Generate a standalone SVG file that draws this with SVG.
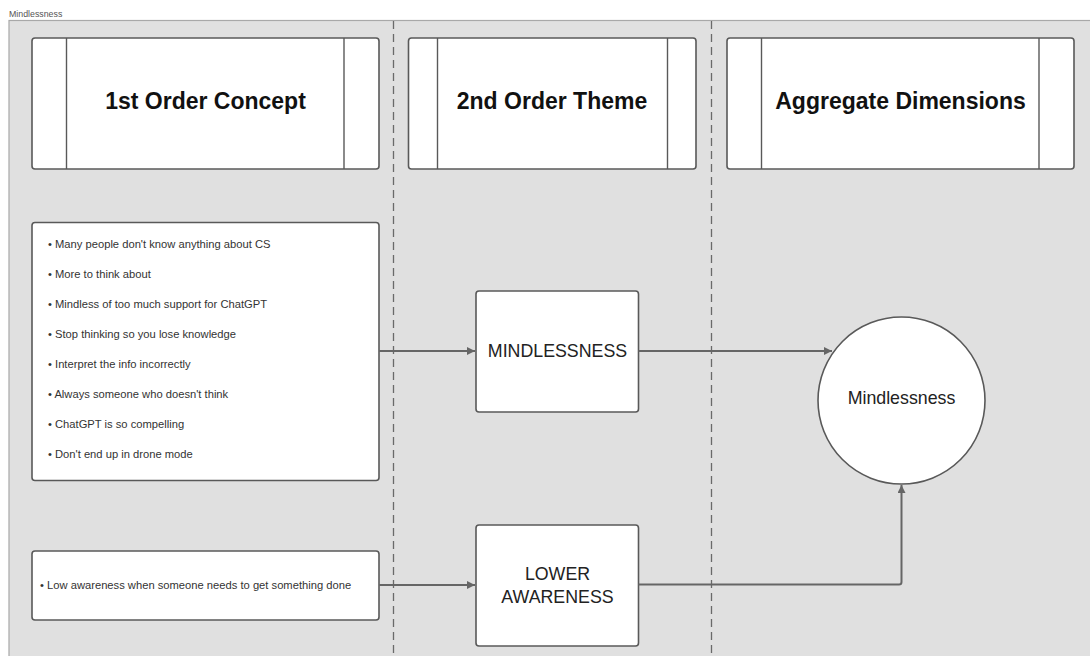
<svg xmlns="http://www.w3.org/2000/svg" width="1090" height="656" viewBox="0 0 1090 656">
<style>
.box{fill:#fff;stroke:#595959;stroke-width:1.6}
.div{stroke:#595959;stroke-width:1.4}
.hdr{font-family:"Liberation Sans",Arial,sans-serif;font-weight:bold;font-size:23px;fill:#111;text-anchor:middle}
.item{font-family:"Liberation Sans",Arial,sans-serif;font-size:11.2px;fill:#333}
.lbl{font-family:"Liberation Sans",Arial,sans-serif;font-size:17.8px;fill:#222;text-anchor:middle}
.conn{fill:none;stroke:#666;stroke-width:2}
.lane{stroke:#6a6a6a;stroke-width:1.3;stroke-dasharray:8 5}
</style>
<defs>
<marker id="arr" viewBox="0 0 10 10" refX="10" refY="5" markerWidth="11" markerHeight="8" markerUnits="userSpaceOnUse" orient="auto">
<path d="M0,0 L10,5 L0,10 z" fill="#666"/>
</marker>
</defs>
<rect width="1090" height="656" fill="#fff"/>
<text x="9" y="16.5" font-family="Liberation Sans,Arial,sans-serif" font-size="8.8" fill="#555">Mindlessness</text>
<rect x="9" y="20.5" width="1090" height="650" fill="#e0e0e0" stroke="#a8a8a8" stroke-width="1.2"/>
<g id="lanes">
<line class="lane" x1="393.5" y1="21" x2="393.5" y2="656"/>
<line class="lane" x1="711.5" y1="21" x2="711.5" y2="656"/>
</g>
<g id="header1">
<rect class="box" x="32" y="38" width="347" height="131" rx="3"/>
<line class="div" x1="66.5" y1="38" x2="66.5" y2="169"/>
<line class="div" x1="344" y1="38" x2="344" y2="169"/>
<text class="hdr" x="205.5" y="109">1st Order Concept</text>
</g>
<g id="header2">
<rect class="box" x="408.5" y="38" width="287.5" height="131" rx="3"/>
<line class="div" x1="437.5" y1="38" x2="437.5" y2="169"/>
<line class="div" x1="667.5" y1="38" x2="667.5" y2="169"/>
<text class="hdr" x="552" y="109">2nd Order Theme</text>
</g>
<g id="header3">
<rect class="box" x="727" y="38" width="347" height="131" rx="3"/>
<line class="div" x1="761.5" y1="38" x2="761.5" y2="169"/>
<line class="div" x1="1039" y1="38" x2="1039" y2="169"/>
<text class="hdr" x="900.5" y="109">Aggregate Dimensions</text>
</g>
<g id="concepts1">
<rect class="box" x="32" y="222.5" width="347" height="258" rx="3"/>
<text class="item" x="48" y="248">• Many people don't know anything about CS</text>
<text class="item" x="48" y="278">• More to think about</text>
<text class="item" x="48" y="308">• Mindless of too much support for ChatGPT</text>
<text class="item" x="48" y="338">• Stop thinking so you lose knowledge</text>
<text class="item" x="48" y="368">• Interpret the info incorrectly</text>
<text class="item" x="48" y="398">• Always someone who doesn't think</text>
<text class="item" x="48" y="428">• ChatGPT is so compelling</text>
<text class="item" x="48" y="458">• Don't end up in drone mode</text>
</g>
<g id="concepts2">
<rect class="box" x="32" y="551" width="347" height="69" rx="3"/>
<text class="item" x="40" y="588.5">• Low awareness when someone needs to get something done</text>
</g>
<g id="theme1">
<rect class="box" x="476" y="291" width="162.5" height="121" rx="3"/>
<text class="lbl" x="557.5" y="357">MINDLESSNESS</text>
</g>
<g id="theme2">
<rect class="box" x="476" y="525" width="162.5" height="121" rx="3"/>
<text class="lbl" x="557.5" y="580">LOWER</text>
<text class="lbl" x="557.5" y="603">AWARENESS</text>
</g>
<g id="dimension">
<circle class="box" cx="901.5" cy="400.5" r="83.5"/>
<text class="lbl" x="901.5" y="404">Mindlessness</text>
</g>
<g id="connectors">
<path class="conn" d="M379,351 L475,351" marker-end="url(#arr)"/>
<path class="conn" d="M638.5,351 L832,351" marker-end="url(#arr)"/>
<path class="conn" d="M379,585 L475,585" marker-end="url(#arr)"/>
<path class="conn" d="M638.5,584.5 L899,584.5 Q901.5,584.5 901.5,582 L901.5,485" marker-end="url(#arr)"/>
</g>
</svg>
